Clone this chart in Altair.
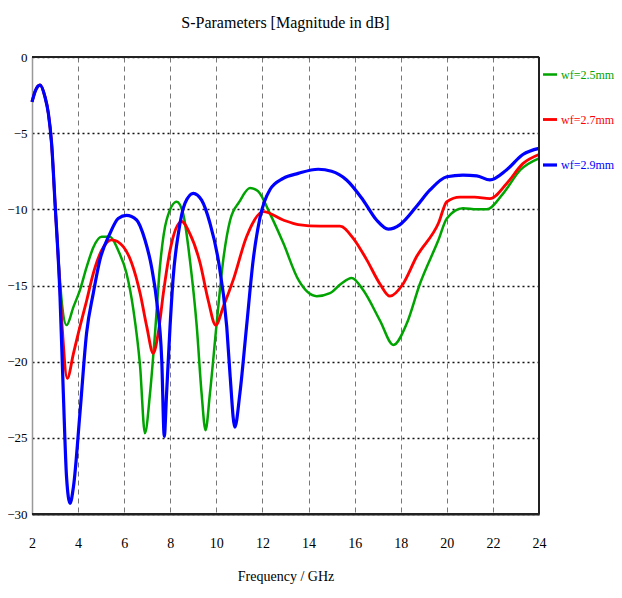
import altair as alt
import pandas as pd

series_names = ["wf=2.5mm", "wf=2.7mm", "wf=2.9mm"]
series_colors = ["#00a400", "#ff0000", "#0000ff"]
series_widths = [2.5, 3.2, 3.0]

green_x = [2.0, 2.15, 2.35, 2.56, 2.71, 2.85, 3.0, 3.15, 3.3, 3.5, 3.8, 4.08, 4.37, 4.66, 5.02, 5.38, 5.74, 6.1, 6.4, 6.69, 6.9, 7.12, 7.34, 7.55, 7.84, 8.28, 8.56, 8.85, 9.15, 9.36, 9.53, 9.72, 10.0, 10.3, 10.6, 11.0, 11.46, 11.8, 12.33, 12.9, 13.55, 14.35, 14.93, 15.4, 15.87, 16.37, 17.1, 17.68, 18.26, 18.83, 19.64, 20.0, 20.7, 21.3, 21.73, 22.45, 23.2, 24.0]
green_y = [-2.95, -2.2, -1.84, -2.6, -3.7, -5.67, -9.6, -13.3, -16.2, -17.6, -16.4, -15.3, -13.8, -12.5, -11.8, -11.8, -12.7, -14.2, -16.6, -20.3, -24.7, -22.1, -18.1, -13.8, -10.7, -9.5, -10.3, -13.3, -17.7, -22.1, -24.5, -22.1, -17.7, -13.3, -10.7, -9.5, -8.6, -8.8, -10.3, -12.2, -14.6, -15.7, -15.5, -14.9, -14.5, -15.3, -17.3, -18.9, -17.5, -14.9, -12.0, -10.6, -9.93, -10.0, -10.0, -8.95, -7.4, -6.65]

red_x = [2.0, 2.15, 2.35, 2.56, 2.71, 2.85, 3.0, 3.15, 3.3, 3.53, 3.8, 4.08, 4.37, 4.66, 5.02, 5.46, 5.96, 6.32, 6.69, 6.98, 7.26, 7.48, 7.7, 7.99, 8.49, 8.85, 9.29, 9.65, 9.97, 10.3, 10.74, 11.31, 12.04, 12.9, 13.55, 14.5, 15.36, 15.94, 16.52, 17.1, 17.53, 18.1, 18.69, 19.64, 20.0, 20.57, 21.2, 21.87, 22.6, 23.3, 24.0]
red_y = [-2.95, -2.2, -1.84, -2.6, -3.7, -5.67, -9.6, -13.5, -17.5, -21.1, -19.45, -17.7, -16.0, -14.2, -12.7, -12.0, -12.45, -13.5, -15.5, -17.7, -19.45, -18.1, -15.5, -12.7, -10.8, -11.6, -13.5, -16.0, -17.6, -16.4, -14.6, -11.8, -10.15, -10.7, -11.0, -11.1, -11.1, -11.9, -13.3, -14.9, -15.7, -14.9, -13.1, -10.9, -9.5, -9.2, -9.2, -9.3, -8.3, -7.0, -6.4]

blue_x = [2.0, 2.15, 2.35, 2.56, 2.71, 2.85, 3.0, 3.21, 3.36, 3.5, 3.65, 3.8, 4.08, 4.37, 4.66, 4.95, 5.38, 5.74, 6.1, 6.54, 6.9, 7.19, 7.41, 7.63, 7.74, 7.84, 7.99, 8.13, 8.35, 8.64, 9.0, 9.36, 9.72, 10.08, 10.45, 10.6, 10.8, 11.02, 11.31, 11.6, 11.9, 12.33, 12.9, 13.55, 14.42, 15.0, 15.65, 16.37, 16.95, 17.46, 17.97, 18.69, 19.27, 20.0, 20.7, 21.3, 21.87, 22.6, 23.3, 24.0]
blue_y = [-2.95, -2.2, -1.84, -2.6, -3.7, -5.67, -9.6, -15.5, -22.1, -27.6, -29.3, -28.2, -23.4, -18.1, -15.5, -13.3, -11.6, -10.6, -10.4, -10.7, -12.0, -13.8, -16.0, -19.9, -24.9, -22.1, -17.7, -14.4, -11.6, -9.6, -8.95, -9.4, -10.9, -13.3, -17.7, -21.0, -24.3, -22.1, -17.7, -13.3, -10.5, -8.7, -7.97, -7.64, -7.37, -7.5, -8.07, -9.4, -10.7, -11.3, -11.0, -9.8, -8.73, -7.86, -7.75, -7.8, -8.07, -7.4, -6.4, -6.0]

x_ticks = [2, 4, 6, 8, 10, 12, 14, 16, 18, 20, 22, 24]
y_ticks = [-30, -25, -20, -15, -10, -5, 0]

rows = []
for name, xs, ys in zip(series_names, [green_x, red_x, blue_x], [green_y, red_y, blue_y]):
    for i, (a, b) in enumerate(zip(xs, ys)):
        rows.append({"freq": a, "db": b, "series": name, "order": i})
df = pd.DataFrame(rows)

FONT = "Liberation Serif"

x_scale = alt.Scale(domain=[2, 24], nice=False, zero=False)
y_scale = alt.Scale(domain=[-30, 0], nice=False, zero=False)

label_color_expr = (
    "datum.value == 'wf=2.5mm' ? '#00a400' : (datum.value == 'wf=2.7mm' ? '#ff0000' : '#0000ff')"
)

lines = alt.Chart(df).mark_line(interpolate="monotone").encode(
    x=alt.X("freq:Q", scale=x_scale,
            axis=alt.Axis(values=x_ticks, grid=True, gridDash=[5, 4], gridColor="#777777",
                          gridWidth=1, ticks=False, labelPadding=22, labelFont=FONT,
                          labelFontSize=14, labelColor="black", title="Frequency / GHz",
                          titleFont=FONT, titleFontSize=14, titleFontWeight="normal",
                          titleColor="black", titlePadding=19, domainColor="#222222",
                          domainWidth=2, labelFlush=False)),
    y=alt.Y("db:Q", scale=y_scale,
            axis=alt.Axis(values=y_ticks, grid=True, gridDash=[2, 3], gridColor="#111111",
                          gridWidth=1.5, ticks=False, labelPadding=5, labelFont=FONT,
                          labelFontSize=13, labelColor="black", title=None,
                          domainColor="#999999", domainWidth=1.5, labelFlush=False)),
    color=alt.Color("series:N", scale=alt.Scale(domain=series_names, range=series_colors),
                    legend=alt.Legend(title=None, orient="none", legendX=509, legendY=9,
                                      symbolType="stroke", symbolStrokeWidth=4.5,
                                      symbolSize=196, labelFont=FONT, labelFontSize=12,
                                      labelColor=alt.ExprRef(expr=label_color_expr),
                                      rowPadding=30, labelOffset=2, labelLimit=200)),
    strokeWidth=alt.StrokeWidth("series:N", scale=alt.Scale(domain=series_names, range=series_widths),
                                legend=None),
    order="order:Q",
)

top_rule = alt.Chart(df).mark_rule(color="#222222", strokeWidth=2).encode(y=alt.datum(0))
bottom_rule = alt.Chart(df).mark_rule(color="#222222", strokeWidth=2).encode(y=alt.datum(-30))
right_rule = alt.Chart(df).mark_rule(color="#222222", strokeWidth=1.5).encode(x=alt.datum(24))

chart = alt.layer(lines, top_rule, bottom_rule, right_rule).properties(
    width=507,
    height=457,
    autosize=alt.AutoSizeParams(type="none"),
    padding={"left": 24, "top": 49, "right": 75, "bottom": 74},
    title=alt.TitleParams("S-Parameters [Magnitude in dB]", font=FONT, fontSize=16,
                          fontWeight="normal", color="black", anchor="middle", offset=20),
).configure_view(stroke=None).configure(background="white")

chart.save("out.html", embed_options={"renderer": "svg", "actions": False})
